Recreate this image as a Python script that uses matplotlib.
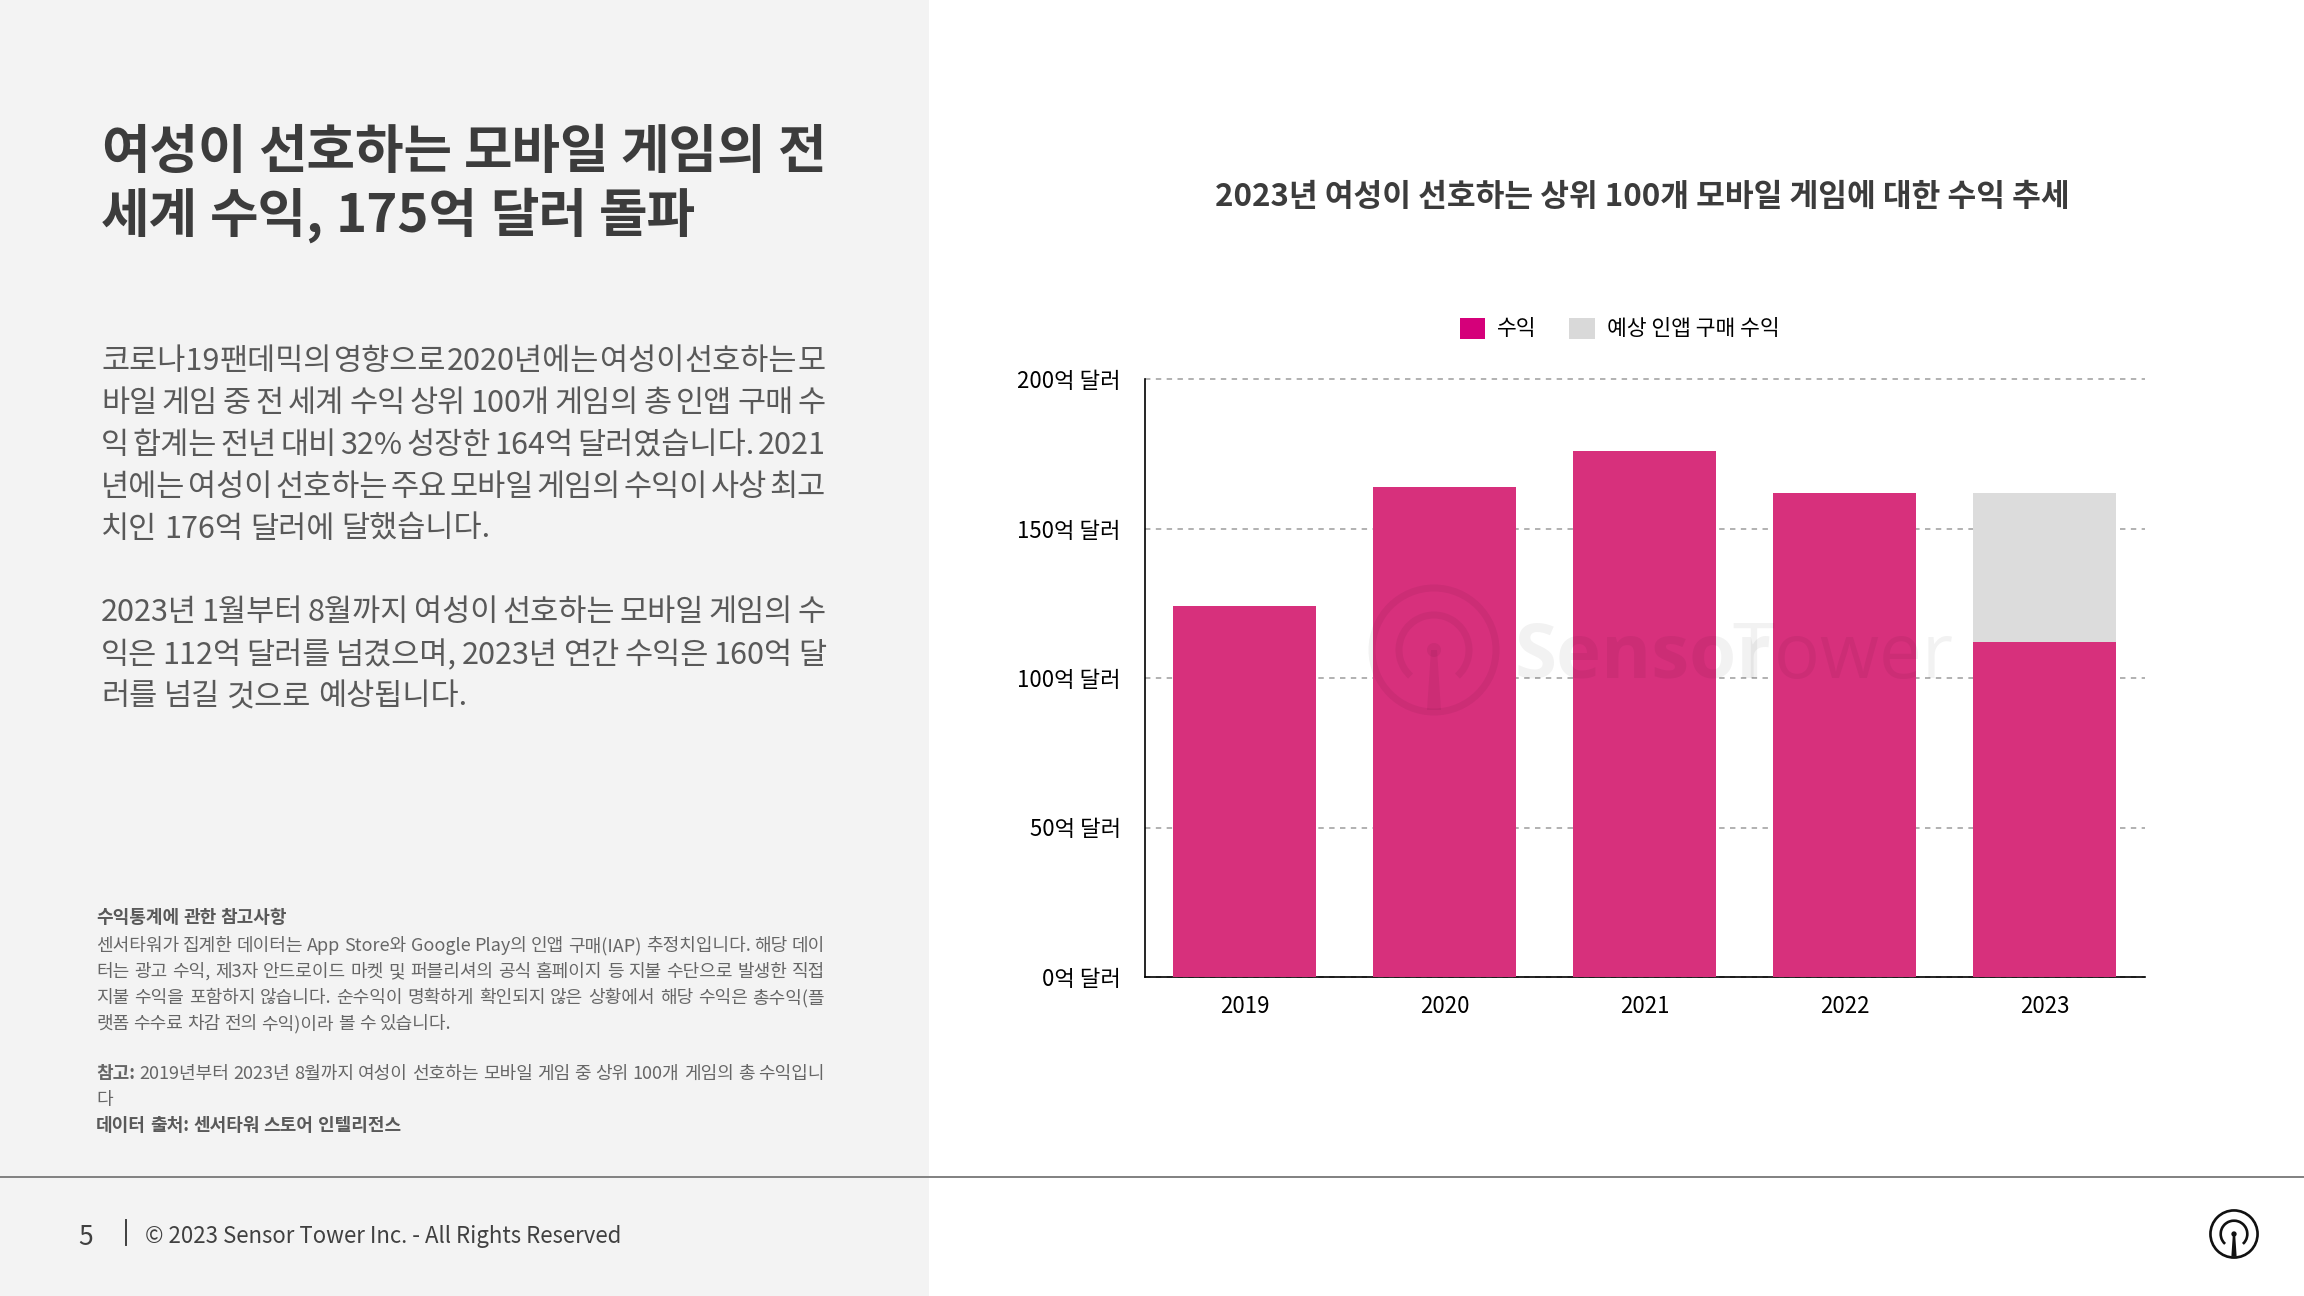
import matplotlib
matplotlib.use('Agg')
import matplotlib.pyplot as plt
import matplotlib.patches as mpatches

plt.rcParams['font.family'] = ['Noto Sans CJK KR', 'DejaVu Sans']

years = ['2019', '2020', '2021', '2022', '2023']
revenue = [124, 164, 176, 162, 112]
expected = [0, 0, 0, 0, 50]
y_ticks = [0, 50, 100, 150, 200]
y_labels = ['0억 달러', '50억 달러', '100억 달러', '150억 달러', '200억 달러']
legend_labels = ['수익', '예상 인앱 구매 수익']

headline = ['여성이 선호하는 모바일 게임의 전', '세계 수익, 175억 달러 돌파']
chart_title = '2023년 여성이 선호하는 상위 100개 모바일 게임에 대한 수익 추세'
body = ['코로나19 팬데믹의 영향으로 2020년에는 여성이 선호하는 모',
        '바일 게임 중 전 세계 수익 상위 100개 게임의 총 인앱 구매 수',
        '익 합계는 전년 대비 32% 성장한 164억 달러였습니다. 2021',
        '년에는 여성이 선호하는 주요 모바일 게임의 수익이 사상 최고',
        '치인 176억 달러에 달했습니다.',
        '2023년 1월부터 8월까지 여성이 선호하는 모바일 게임의 수',
        '익은 112억 달러를 넘겼으며, 2023년 연간 수익은 160억 달',
        '러를 넘길 것으로 예상됩니다.']
body_y = [370, 412, 454, 496, 538, 621, 664, 705]
body_just = [True, True, True, True, False, True, True, False]
notes = ['센서타워가 집계한 데이터는 App Store와 Google Play의 인앱 구매(IAP) 추정치입니다. 해당 데이',
         '터는 광고 수익, 제3자 안드로이드 마켓 및 퍼블리셔의 공식 홈페이지 등 지불 수단으로 발생한 직접',
         '지불 수익을 포함하지 않습니다. 순수익이 명확하게 확인되지 않은 상황에서 해당 수익은 총수익(플',
         '랫폼 수수료 차감 전의 수익)이라 볼 수 있습니다.']
notes_y = [951, 977, 1003, 1029]
note_ref = '2019년부터 2023년 8월까지 여성이 선호하는 모바일 게임 중 상위 100개 게임의 총 수익입니'

PINK = '#d7307c'
LEG_PINK = '#d5007a'
GRAY = '#dcdcdc'

fig = plt.figure(figsize=(23.04, 12.96), dpi=100, facecolor='white')

# page layer in pixel coords, y goes down
pg = fig.add_axes([0, 0, 1, 1], zorder=5)
pg.set_xlim(0, 2304)
pg.set_ylim(1296, 0)
pg.axis('off')
pg.patch.set_alpha(0)

pg.add_patch(mpatches.Rectangle((0, 0), 929, 1296, color='#f3f3f3', lw=0, zorder=0))
pg.plot([0, 2304], [1177, 1177], color='#808080', lw=1.4, zorder=1)


def put_line(line, x, y, size, color, weight='normal', right=None, first_weight=None):
    # places word by word so a line can be justified up to right
    words = line.split(' ')
    items = []
    for i, w in enumerate(words):
        wt = first_weight if (first_weight and i == 0) else weight
        items.append(pg.text(x, y, w, fontsize=size, color=color, fontweight=wt, va='baseline', ha='left', zorder=3))
    r = fig.canvas.get_renderer()
    widths = [t.get_window_extent(r).width for t in items]
    sp = pg.text(0, 0, 'a a', fontsize=size, fontweight=weight)
    sp2 = pg.text(0, 0, 'aa', fontsize=size, fontweight=weight)
    gap = sp.get_window_extent(r).width - sp2.get_window_extent(r).width
    sp.remove()
    sp2.remove()
    if right is not None and len(words) > 1:
        gap = (right - x - sum(widths)) / (len(words) - 1)
    cx = x
    for t, w in zip(items, widths):
        t.set_x(cx)
        cx += w + gap


def logo(cx, cy, k, **kw):
    lw = 7 * k * 0.72
    pg.add_patch(mpatches.Circle((cx, cy), 62 * k, fill=False, lw=lw, **kw))
    pg.add_patch(mpatches.Arc((cx, cy), 70 * k, 70 * k, theta1=132, theta2=408, lw=lw, **kw))
    pg.add_patch(mpatches.Polygon([(cx - 3 * k, cy), (cx + 3 * k, cy), (cx + 7 * k, cy + 60 * k), (cx - 7 * k, cy + 60 * k)], lw=0, **kw))
    pg.add_patch(mpatches.Circle((cx, cy), 7 * k, lw=0, **kw))


# left panel texts
put_line(headline[0], 101, 168, 38, '#3c3c3c', weight='bold', right=826)
put_line(headline[1], 101, 232, 38, '#3c3c3c', weight='bold')
for line, y, just in zip(body, body_y, body_just):
    put_line(line, 101, y, 22, '#595959', right=826 if just else None)

put_line('수익통계에 관한 참고사항', 96, 923, 13, '#595959', weight='bold')
for i, (line, y) in enumerate(zip(notes, notes_y)):
    put_line(line, 96, y, 13, '#666666', right=825 if i < 3 else None)
put_line('참고: ' + note_ref, 96, 1079, 13, '#666666', right=825, first_weight='bold')
put_line('다', 96, 1105, 13, '#666666')
put_line('데이터 출처: 센서타워 스토어 인텔리전스', 96, 1131, 13, '#595959', weight='bold')

pg.text(78, 1245, '5', fontsize=19, color='#404040', va='baseline', zorder=3)
pg.plot([126, 126], [1220, 1245], color='#404040', lw=1.4, zorder=3)
pg.text(145, 1243, '© 2023 Sensor Tower Inc. - All Rights Reserved', fontsize=16, color='#404040', va='baseline', zorder=3)

logo(2234, 1234, 0.38, color='#111111')

# watermark over the bars
logo(1434, 650, 1.0, color='black', alpha=0.05)
pg.text(1514, 678, 'Sensor', fontsize=55, family='Open Sans', fontweight='bold', color='black', alpha=0.05, va='baseline', zorder=4)
pg.text(1732, 678, 'Tower', fontsize=55, family='Open Sans', color='black', alpha=0.05, va='baseline', zorder=4)

# chart
ax = fig.add_axes([1144.5 / 2304, (1296 - 977) / 1296, 1000 / 2304, 598 / 1296], zorder=2)
x = range(len(years))
ax.bar(x, revenue, width=0.715, color=PINK, zorder=3)
ax.bar(x, expected, width=0.715, bottom=revenue, color=GRAY, zorder=3)
ax.set_xlim(-0.5, 4.5)
ax.set_ylim(0, 200)
ax.set_xticks(list(x), years)
ax.set_yticks(y_ticks, y_labels)
ax.tick_params(axis='both', length=0, labelsize=16, labelcolor='black')
ax.tick_params(axis='y', pad=17)
ax.tick_params(axis='x', pad=13)
ax.grid(axis='y', color='#ababab', lw=1.3, linestyle=(0, (3, 3)), zorder=1, clip_on=False)
for s in ['top', 'right']:
    ax.spines[s].set_visible(False)
for s in ['left', 'bottom']:
    ax.spines[s].set_color('black')
    ax.spines[s].set_linewidth(1.2)

pg.text(1642, 197, chart_title, fontsize=22.5, fontweight='bold', color='#3c3c3c', ha='center', va='center', zorder=3)

handles = [mpatches.Patch(color=LEG_PINK, lw=0), mpatches.Patch(color='#d9d9d9', lw=0)]
ax.legend(handles, legend_labels, loc='center', bbox_to_anchor=(0.475, 1.0), bbox_transform=ax.transAxes,
          ncol=2, frameon=False, fontsize=15.5, handlelength=1.2, handleheight=1.15,
          handletextpad=0.55, columnspacing=1.5)
ax.get_legend().set_bbox_to_anchor((0.475, (977 - 329) / 598), transform=ax.transAxes)

fig.savefig('out.png', dpi=100)
